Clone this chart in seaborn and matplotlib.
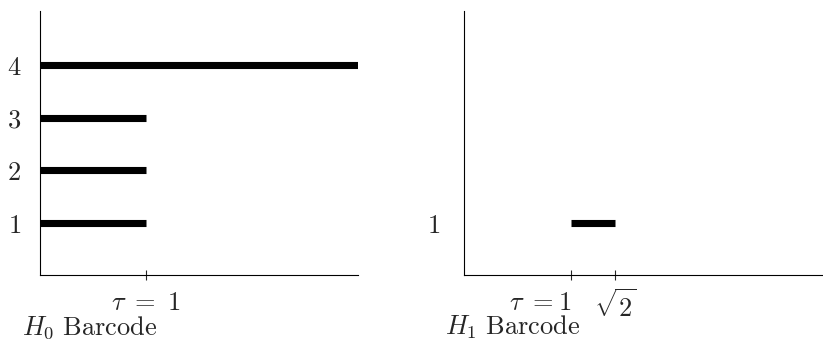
import numpy as np
import pandas as pd
import matplotlib
matplotlib.use('Agg')
import matplotlib.pyplot as plt
import seaborn as sns

sns.set_style('ticks')
plt.rcParams['mathtext.fontset'] = 'cm'
plt.rcParams['font.family'] = ['DejaVu Serif']

# barcode data: one bar per feature, from birth to death
h0_index = [1, 2, 3, 4]
h0_birth = [0, 0, 0, 0]
h0_death = [1, 1, 1, 3]   # the last one never dies -> runs to the end of the axis
h1_index = [1]
h1_birth = [1.0]
h1_death = [1.414]

h0_ticks = [1]
h0_ticklabels = [r'$\tau\ {=}\ 1$']
h1_ticks = [1.0, 1.414]
h1_ticklabels = [r'$\tau\ {=}1$', r'$\sqrt{2}$']


def bar_table(index, birth, death):
    rows = []
    for k, b, d in zip(index, birth, death):
        rows.append({'bar': k, 't': b})
        rows.append({'bar': k, 't': d})
    return pd.DataFrame(rows)


df0 = bar_table(h0_index, h0_birth, h0_death)
df1 = bar_table(h1_index, h1_birth, h1_death)

fig = plt.figure(figsize=(8.23, 3.41), dpi=100)
ax0 = fig.add_axes([0.0492, 0.1935, 0.3857, 0.7742])
ax1 = fig.add_axes([0.5638, 0.1935, 0.4362, 0.7742])

fs = 19
for ax, df in [(ax0, df0), (ax1, df1)]:
    sns.lineplot(data=df, x='t', y='bar', units='bar', estimator=None, sort=False,
                 color='black', lw=5.1, solid_capstyle='butt', ax=ax, legend=False)
    sns.despine(ax=ax)
    for s in ['left', 'bottom']:
        ax.spines[s].set_linewidth(0.8)
        ax.spines[s].set_color('black')
    ax.set_ylim(0, 5.03)
    ax.set_xlabel('')
    ax.set_ylabel('')
    ax.tick_params(axis='y', length=0, pad=14, labelsize=fs)
    ax.tick_params(axis='x', direction='inout', length=7, width=0.8, pad=7, labelsize=fs)

ax0.set_xlim(0, 3)
ax0.set_yticks(h0_index)
ax0.set_yticklabels([f'${k}$' for k in h0_index])
ax0.set_xticks(h0_ticks)
ax0.set_xticklabels(h0_ticklabels)

ax1.set_xlim(0, 3.36)
ax1.set_yticks(h1_index)
ax1.set_yticklabels([f'${k}$' for k in h1_index])
ax1.tick_params(axis='y', pad=17)
ax1.set_xticks(h1_ticks)
ax1.set_xticklabels(h1_ticklabels)
ax1.get_xticklabels()[0].set_ha('right')

fig.text(0.0267, 0.02, r'$H_0\ \mathrm{Barcode}$', fontsize=fs, va='baseline')
fig.text(0.5407, 0.02, r'$H_1\ \mathrm{Barcode}$', fontsize=fs, va='baseline')

fig.savefig('out.png', dpi=100)
